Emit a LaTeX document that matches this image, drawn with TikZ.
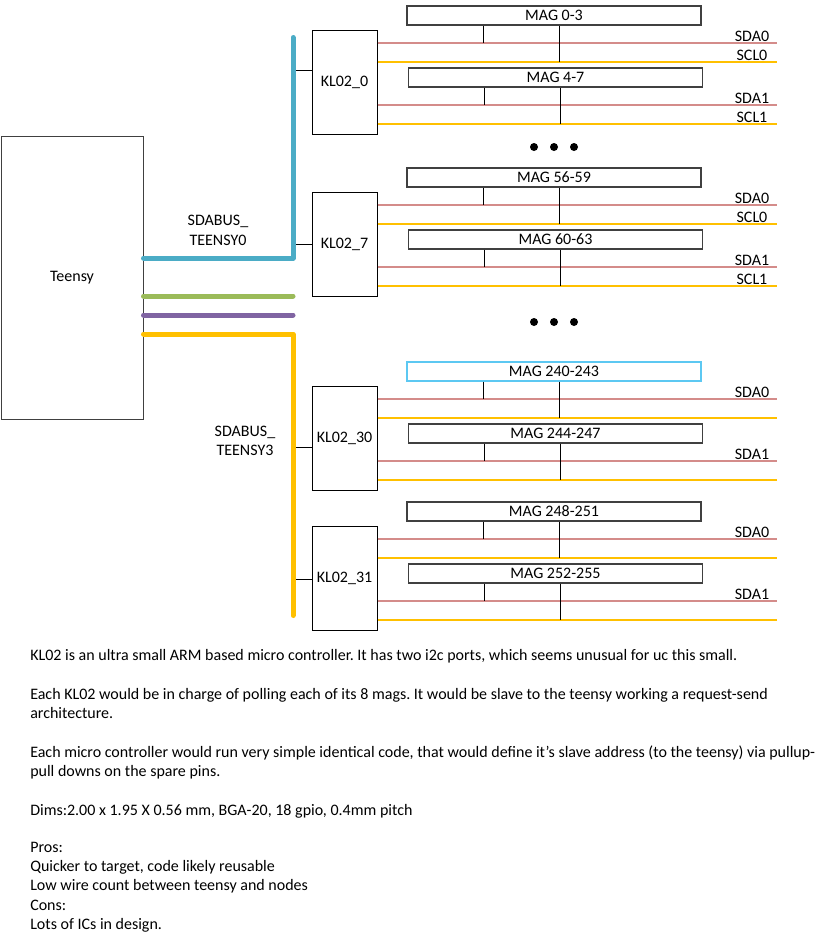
\documentclass[tikz,border=0pt]{standalone}
\usepackage{fontspec}
\setmainfont{Carlito}
\frenchspacing
\definecolor{busblue}{HTML}{4BACC6}
\definecolor{busgreen}{HTML}{9BBB59}
\definecolor{buspurple}{HTML}{8064A2}
\definecolor{busorange}{HTML}{FFC000}
\definecolor{sdared}{HTML}{D48C8A}
\definecolor{sclgold}{HTML}{FFC000}
\definecolor{boxgray}{HTML}{404040}
\definecolor{magcyan}{HTML}{5CC8F2}

\begin{document}
\begin{tikzpicture}[x=0.75pt,y=-0.75pt,
    font=\fontsize{12}{14.6}\selectfont,
    box/.style={draw=black,line width=0.75pt,inner sep=0pt},
    teensybox/.style={box,draw=boxgray,minimum width=106.5pt,minimum height=212.25pt},
    klbox/.style={box,minimum width=48.75pt,minimum height=78pt},
    magbox/.style={box,draw=boxgray,line width=1pt,minimum width=220.5pt,minimum height=14.25pt},
    bus/.style={line width=3.75pt,line cap=round,line join=round},
    sda/.style={draw=sdared,line width=0.9pt},
    scl/.style={draw=sclgold,line width=0.9pt},
    tap/.style={draw=black,line width=0.75pt},
    wire/.style={anchor=base,inner sep=0pt},
    note/.style={anchor=base west,inner sep=0pt}]
  \useasboundingbox (0,0) rectangle (826,943);

  % Teensy
  \node[teensybox] (teensy) at (72,277.5) {Teensy};

  % KL02 groups with their mags
  \foreach \n/\dy/\tk/\ma/\mb/\mc in {0/0/70/{MAG 0-3}/{MAG 4-7}/boxgray,
      7/162/82/{MAG 56-59}/{MAG 60-63}/boxgray,
      30/356/91/{MAG 240-243}/{MAG 244-247}/magcyan,
      31/496/83/{MAG 248-251}/{MAG 252-255}/boxgray} {
    \node[klbox] (kl\n) at (344.5,82+\dy) {KL02\_\n};
    \node[magbox,draw=\mc] (maga\n) at (554,15.5+\dy) {\ma};
    \node[magbox] (magb\n) at (555.5,77.5+\dy) {\mb};
    \coordinate (sdaA\n) at (777,43+\dy);
    \coordinate (sclA\n) at (777,62+\dy);
    \coordinate (sdaB\n) at (777,105+\dy);
    \coordinate (sclB\n) at (777,124+\dy);
    \draw[sda] (kl\n.east |- sdaA\n) -- (sdaA\n);
    \draw[scl] (kl\n.east |- sclA\n) -- (sclA\n);
    \draw[sda] (kl\n.east |- sdaB\n) -- (sdaB\n);
    \draw[scl] (kl\n.east |- sclB\n) -- (sclB\n);
    \draw[tap] (maga\n.south -| 483,0) -- (sdaA\n -| 483,0);
    \draw[tap] (maga\n.south -| 559,0) -- (sclA\n -| 559,0);
    \draw[tap] (magb\n.south -| 484,0) -- (sdaB\n -| 484,0);
    \draw[tap] (magb\n.south -| 560,0) -- (sclB\n -| 560,0);
    \node[wire] (lsdaA\n) at (752,41.5+\dy) {SDA0};
    \node[wire] (lsdaB\n) at (752,103.5+\dy) {SDA1};
    \draw[tap] (kl\n.west |- 0,\tk+\dy) -- ++(-19,0);
  }
  \foreach \n/\dy in {0/0,7/162} {
    \node[wire] (lsclA\n) at (752,60.5+\dy) {SCL0};
    \node[wire] (lsclB\n) at (752,122.5+\dy) {SCL1};
  }

  % buses from the teensy
  \coordinate (btop) at (293,37.5);
  \coordinate (gend) at (293,296);
  \coordinate (pend) at (293,315);
  \coordinate (obot) at (293,615.5);
  \draw[bus,busblue] (teensy.east |- 0,258) -| (btop);
  \draw[bus,busgreen] (teensy.east |- gend) -- (gend);
  \draw[bus,buspurple] (teensy.east |- pend) -- (pend);
  \draw[bus,busorange] (teensy.east |- 0,334) -| (obot);
  \node[align=center,inner sep=0pt] (bus0) at (218,230.5) {SDABUS\_\\TEENSY0};
  \node[align=center,inner sep=0pt] (bus3) at (245,441) {SDABUS\_\\TEENSY3};

  % more groups in between
  \foreach \x in {534,554,574} {
    \fill (\x,147) circle[radius=3pt];
    \fill (\x,322) circle[radius=3pt];
  }

  % notes
  \node[note] (note1) at (30,660) {KL02 is an ultra small ARM based micro controller. It has two i2c ports, which seems unusual for uc this small.};
  \node[note] (note2) at (30,699) {Each KL02 would be in charge of polling each of its 8 mags. It would be slave to the teensy working a request-send};
  \node[note] (note3) at (30,718) {architecture.};
  \node[note] (note4) at (30,757) {Each micro controller would run very simple identical code, that would define it’s slave address (to the teensy) via pullup-};
  \node[note] (note5) at (30,776) {pull downs on the spare pins.};
  \node[note] (note6) at (30,815) {Dims:2.00 x 1.95 X 0.56 mm, BGA-20, 18 gpio, 0.4mm pitch};
  \node[note] (note7) at (30,852) {Pros:};
  \node[note] (note8) at (30,871) {Quicker to target, code likely reusable};
  \node[note] (note9) at (30,890) {Low wire count between teensy and nodes};
  \node[note] (note10) at (30,910) {Cons:};
  \node[note] (note11) at (30,929) {Lots of ICs in design.};
\end{tikzpicture}
\end{document}
